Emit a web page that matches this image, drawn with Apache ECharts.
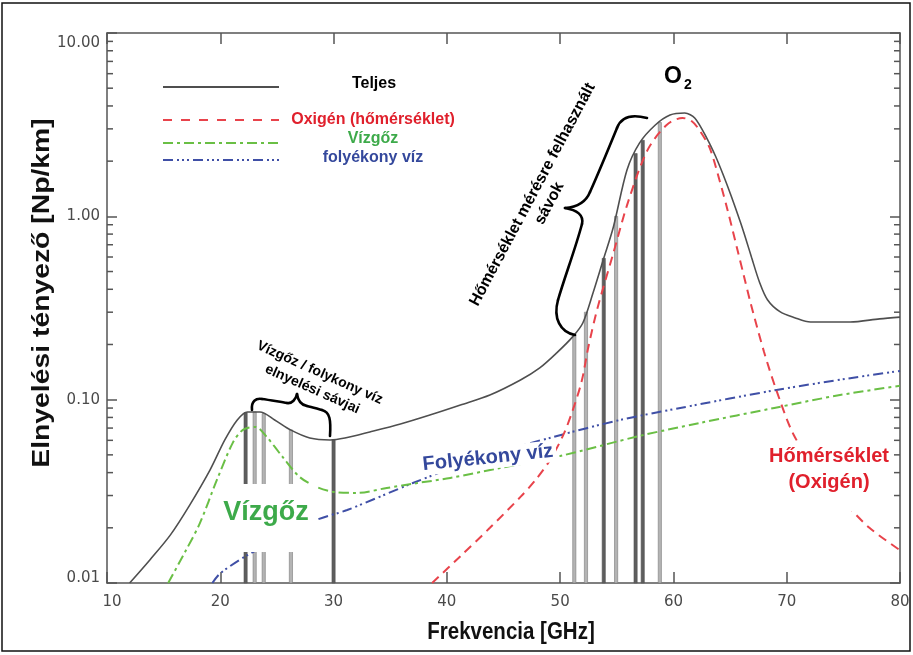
<!DOCTYPE html>
<html>
<head>
<meta charset="utf-8">
<script src="https://cdn.jsdelivr.net/npm/echarts@6/dist/echarts.min.js"></script>
<style>
  html, body { margin: 0; padding: 0; background: #fff; }
  #chart { width: 913px; height: 655px; }
</style>
</head>
<body>
<div id="chart"></div>
<script>
// Atmospheric absorption coefficient [Np/km] versus frequency [GHz]

// Axis ranges
const freqMin = 10, freqMax = 80, freqStep = 10;
const attMin = 0.01, attMax = 10;

// Total absorption
const totalFreq = [12.0, 13.8, 15.6, 17.3, 19.1, 20.4, 21.5, 22.4, 23.5, 24.8, 26.2, 27.9, 29.7, 31.0,
  33.2, 35.9, 38.5, 41.2, 43.8, 46.5, 48.2, 49.7, 51.1, 52.0, 52.9, 53.8, 54.7, 55.9, 57.0, 58.4,
  59.7, 61.0, 61.9, 63.0, 63.7, 64.4, 65.1, 65.9, 66.4, 66.9, 67.6, 68.3, 69.4, 70.7, 72.1, 75.6, 78.2, 80.0];
const totalAtt = [0.0100, 0.0134, 0.0183, 0.0266, 0.0414, 0.0603, 0.0775, 0.0857, 0.0857, 0.0775, 0.0684, 0.0618, 0.0603, 0.0618,
  0.0667, 0.0737, 0.0825, 0.0936, 0.106, 0.128, 0.149, 0.180, 0.220, 0.262, 0.382, 0.578, 0.875, 1.79, 2.51, 3.15,
  3.57, 3.66, 3.43, 2.63, 2.14, 1.68, 1.29, 0.933, 0.750, 0.596, 0.437, 0.351, 0.302, 0.280, 0.265, 0.265, 0.276, 0.282];

// Oxygen
const oxyFreq = [38.7, 41.2, 43.8, 46.5, 47.8, 49.1, 50.3, 51.1, 51.9, 52.5, 53.3, 54.7, 56.0, 57.7,
  59.4, 60.8, 61.6, 62.3, 63.2, 64.1, 64.8, 65.6, 66.2, 66.8, 68.0, 69.1, 70.6, 72.9, 75.1, 77.3, 80.0];
const oxyAtt = [0.0100, 0.0140, 0.0200, 0.0295, 0.0363, 0.0468, 0.0646, 0.0871, 0.126, 0.195, 0.316, 0.631, 1.20, 2.29,
  3.15, 3.44, 3.31, 2.95, 2.36, 1.55, 1.07, 0.676, 0.479, 0.339, 0.182, 0.112, 0.0646, 0.0389, 0.0275, 0.0200, 0.0151];

// Water vapour
const vapFreq = [15.4, 16.9, 18.2, 19.7, 21.1, 22.0, 23.1, 24.1, 25.5, 27.0, 28.5, 30.0, 32.1, 34.7,
  37.4, 40.3, 44.7, 50.0, 57.0, 62.3, 68.9, 74.7, 80.0];
const vapAtt = [0.0100, 0.0148, 0.0212, 0.0365, 0.0581, 0.0684, 0.0710, 0.0626, 0.0487, 0.0379, 0.0334, 0.0314, 0.0310, 0.0330,
  0.0351, 0.0374, 0.0424, 0.0493, 0.0634, 0.0746, 0.0901, 0.106, 0.119];

// Liquid water
const liqFreq = [19.3, 20.0, 22.4, 25.3, 28.5, 31.2, 37.0, 42.9, 49.4, 55.3, 60.6, 69.1, 75.6, 80.0];
const liqAtt = [0.0100, 0.0113, 0.0142, 0.0176, 0.0221, 0.0250, 0.0351, 0.0481, 0.0626, 0.0775, 0.0901, 0.113, 0.131, 0.1435];

// Radiometer channels and the absorption they reach
const channelFreq = [22.235, 23.035, 23.835, 26.235, 30.0, 51.25, 52.28, 53.85, 54.94, 56.66, 57.29, 58.8];
const channelTop = [0.0850, 0.0857, 0.0840, 0.0684, 0.0603, 0.226, 0.300, 0.590, 1.00, 2.20, 2.60, 3.25];

// Log-axis minor tick values
const minorTickValues = [0.02, 0.03, 0.04, 0.05, 0.06, 0.07, 0.08, 0.09,
  0.2, 0.3, 0.4, 0.5, 0.6, 0.7, 0.8, 0.9,
  2, 3, 4, 5, 6, 7, 8, 9];

// ---- styling ----
const C_TOTAL = '#4f4f4f';
const C_OXY = '#e8434b';
const C_VAP = '#6abf45';
const C_LIQ = '#3f4fa6';
const T_RED = '#e0202c';
const T_GREEN = '#3daa4a';
const T_BLUE = '#34489c';
const AXIS_C = '#555';
const FONT = 'Liberation Sans, Arial, sans-serif';
const TICK_FONT = 'DejaVu Sans, sans-serif';
const SMOOTH = 0.3;
const darkChannels = new Set([22.235, 30.0, 53.85, 56.66, 57.29]);

const zip = (xs, ys) => xs.map((x, i) => [x, ys[i]]);

const chart = echarts.init(document.getElementById('chart'), null, { renderer: 'canvas' });

const axisLineStyle = { color: AXIS_C, width: 1.5 };

const xAxisBase = {
  type: 'value', min: freqMin, max: freqMax, interval: freqStep,
  axisLine: { show: true, onZero: false, lineStyle: axisLineStyle },
  axisTick: { show: true, inside: true, length: 11, lineStyle: axisLineStyle },
  splitLine: { show: false }
};
const yAxisBase = {
  type: 'log', logBase: 10, min: attMin, max: attMax,
  axisLine: { show: true, onZero: false, lineStyle: axisLineStyle },
  axisTick: { show: true, inside: true, length: 10, lineStyle: axisLineStyle },
  splitLine: { show: false }
};

function bezier(p) {
  return {
    type: 'bezierCurve', z: 60, silent: true,
    shape: { x1: p[0], y1: p[1], cpx1: p[2], cpy1: p[3], cpx2: p[4], cpy2: p[5], x2: p[6], y2: p[7] },
    style: { stroke: '#000', lineWidth: 2.6, fill: null, lineCap: 'round' }
  };
}

function label(text, x, y, opts) {
  return Object.assign({
    type: 'text', x: x, y: y, z: 70, silent: true,
    style: Object.assign({
      text: text, fill: '#000', fontFamily: FONT, fontSize: 16, fontWeight: 'bold',
      align: 'center', verticalAlign: 'middle'
    }, opts.style || {})
  }, opts.el || {});
}

const deg = Math.PI / 180;

const graphics = [
  // page frame
  { type: 'rect', z: 1, silent: true, shape: { x: 2, y: 3, width: 908, height: 648 },
    style: { fill: null, stroke: '#111', lineWidth: 1.5 } },

  // legend keys
  { type: 'line', z: 60, silent: true, shape: { x1: 163, y1: 87, x2: 279, y2: 87 }, style: { stroke: C_TOTAL, lineWidth: 2 } },
  { type: 'line', z: 60, silent: true, shape: { x1: 163, y1: 120, x2: 279, y2: 120 }, style: { stroke: C_OXY, lineWidth: 2, lineDash: [9, 9] } },
  { type: 'line', z: 60, silent: true, shape: { x1: 163, y1: 143, x2: 279, y2: 143 }, style: { stroke: C_VAP, lineWidth: 2, lineDash: [10, 4, 3, 4] } },
  { type: 'line', z: 60, silent: true, shape: { x1: 163, y1: 160, x2: 279, y2: 160 }, style: { stroke: C_LIQ, lineWidth: 2, lineDash: [10, 4, 2, 3, 2, 3, 2, 4] } },
  label('Teljes', 374, 84, { style: { fontSize: 16 } }),
  label('Oxigén (hőmérséklet)', 373, 120, { style: { fill: T_RED, fontSize: 16 } }),
  label('Vízgőz', 373, 139, { style: { fill: T_GREEN, fontSize: 16 } }),
  label('folyékony víz', 373, 158, { style: { fill: T_BLUE, fontSize: 16 } }),

  // O2
  label('O', 673, 77, { style: { fontSize: 23 } }),
  label('2', 688, 85, { style: { fontSize: 14 } }),

  // temperature band annotation
  label('Hőmérséklet mérésre felhasznált\nsávok', 541, 199, { style: { fontSize: 16, lineHeight: 19 }, el: { rotation: 62 * deg } }),
  bezier([647, 118, 632, 114, 621, 117, 617, 128]),
  bezier([617, 128, 608, 150, 599, 172, 590, 192]),
  bezier([590, 192, 586, 202, 578, 207, 565, 208]),
  bezier([565, 208, 577, 210, 584, 215, 582, 224]),
  bezier([582, 224, 575, 250, 565, 276, 558, 300]),
  bezier([558, 300, 553, 318, 560, 332, 575, 335]),

  // water vapour / liquid water band annotation
  label('Vízgőz / folykony víz\nelnyelési sávjai', 316, 381, { style: { fontSize: 14, lineHeight: 18 }, el: { rotation: -24 * deg } }),
  bezier([252, 410, 251, 401, 256, 398, 262, 399]),
  bezier([262, 399, 270, 400, 280, 402, 287, 403]),
  bezier([287, 403, 292, 404, 296, 399, 297, 394]),
  bezier([297, 394, 298, 401, 301, 405, 307, 406]),
  bezier([307, 406, 312, 407, 318, 409, 322, 410]),
  bezier([322, 410, 330, 412, 331, 420, 330, 436]),

  // in-plot labels
  { type: 'rect', z: 65, silent: true, shape: { x: 222, y: 484, width: 94, height: 68 }, style: { fill: '#fff' } },
  label('Vízgőz', 266, 513, { style: { fill: T_GREEN, fontSize: 27 } }),
  label('Folyékony víz', 488, 458, { style: { fill: T_BLUE, fontSize: 20, backgroundColor: '#fff', padding: [1, 3, 1, 3] }, el: { rotation: 6 * deg } }),
  { type: 'rect', z: 65, silent: true, shape: { x: 763, y: 441, width: 130, height: 70 }, style: { fill: '#fff' } },
  label('Hőmérséklet\n(Oxigén)', 829, 469, { style: { fill: T_RED, fontSize: 20, lineHeight: 26 } }),

  // axis titles
  label('Elnyelési tényező [Np/km]', 42, 293, { style: { fontSize: 24, fill: '#111' }, el: { rotation: 90 * deg, scaleX: 1.18 } }),
  label('Frekvencia [GHz]', 511, 632, { style: { fontSize: 20.5, fill: '#111' }, el: { scaleY: 1.15 } })
];

const option = {
  animation: false,
  backgroundColor: '#fff',
  grid: { left: 107, right: 13, top: 33, bottom: 72, containLabel: false },
  xAxis: [
    Object.assign({}, xAxisBase, {
      position: 'bottom',
      axisLabel: {
        margin: 12,
        formatter: v => (v === freqMin ? '{first|' + v + '}' : '{n|' + v + '}'),
        rich: {
          first: { fontFamily: TICK_FONT, fontSize: 15, color: '#4a4a4a', padding: [0, 0, 0, 10] },
          n: { fontFamily: TICK_FONT, fontSize: 15, color: '#4a4a4a' }
        }
      }
    }),
    Object.assign({}, xAxisBase, { position: 'top', axisLabel: { show: false } })
  ],
  yAxis: [
    Object.assign({}, yAxisBase, {
      position: 'left',
      axisLabel: {
        margin: 7,
        formatter: v => {
          const s = v.toFixed(2);
          if (v > 5) return '{top|' + s + '}';
          if (v < 0.02) return '{bot|' + s + '}';
          return '{n|' + s + '}';
        },
        rich: {
          top: { fontFamily: TICK_FONT, fontSize: 15, color: '#4a4a4a', padding: [20, 0, 0, 0] },
          bot: { fontFamily: TICK_FONT, fontSize: 15, color: '#4a4a4a', padding: [0, 0, 10, 0] },
          n: { fontFamily: TICK_FONT, fontSize: 15, color: '#4a4a4a' }
        }
      }
    }),
    Object.assign({}, yAxisBase, { position: 'right', axisLabel: { show: false } })
  ],
  series: [
    {
      name: 'channels', type: 'custom', xAxisIndex: 0, yAxisIndex: 0, z: 1,
      data: zip(channelFreq, channelTop),
      encode: { x: 0, y: 1 },
      renderItem: (params, api) => {
        const f = api.value(0);
        const base = api.coord([f, attMin]);
        const top = api.coord([f, api.value(1)]);
        const dark = darkChannels.has(f);
        return {
          type: 'rect',
          shape: { x: base[0] - 1.6, y: top[1], width: 3.2, height: base[1] - top[1] },
          style: dark ? { fill: '#5e5e5e', stroke: '#555', lineWidth: 0.6 }
                      : { fill: '#b4b4b4', stroke: '#7a7a7a', lineWidth: 0.6 }
        };
      }
    },
    {
      name: 'minorTicks', type: 'custom', xAxisIndex: 0, yAxisIndex: 0, z: 3, silent: true,
      data: minorTickValues.map(v => [freqMin, v]),
      encode: { x: 0, y: 1 },
      renderItem: (params, api) => {
        const v = api.value(1);
        const l = api.coord([freqMin, v]);
        const r = api.coord([freqMax, v]);
        const st = { stroke: AXIS_C, lineWidth: 1.5 };
        return {
          type: 'group', children: [
            { type: 'line', shape: { x1: l[0], y1: l[1], x2: l[0] + 6, y2: l[1] }, style: st },
            { type: 'line', shape: { x1: r[0], y1: r[1], x2: r[0] - 6, y2: r[1] }, style: st }
          ]
        };
      }
    },
    {
      name: 'folyékony víz', type: 'line', z: 4, showSymbol: false, smooth: SMOOTH,
      data: zip(liqFreq, liqAtt),
      lineStyle: { color: C_LIQ, width: 2, type: [10, 4, 2, 3, 2, 4] }
    },
    {
      name: 'Vízgőz', type: 'line', z: 4, showSymbol: false, smooth: SMOOTH,
      data: zip(vapFreq, vapAtt),
      lineStyle: { color: C_VAP, width: 2, type: [10, 4, 3, 4] }
    },
    {
      name: 'Oxigén (hőmérséklet)', type: 'line', z: 5, showSymbol: false, smooth: SMOOTH,
      data: zip(oxyFreq, oxyAtt),
      lineStyle: { color: C_OXY, width: 2, type: [9, 6] }
    },
    {
      name: 'Teljes', type: 'line', z: 6, showSymbol: false, smooth: SMOOTH,
      data: zip(totalFreq, totalAtt),
      lineStyle: { color: C_TOTAL, width: 1.6 }
    }
  ],
  graphic: { elements: graphics }
};

chart.setOption(option);
</script>
</body>
</html>
